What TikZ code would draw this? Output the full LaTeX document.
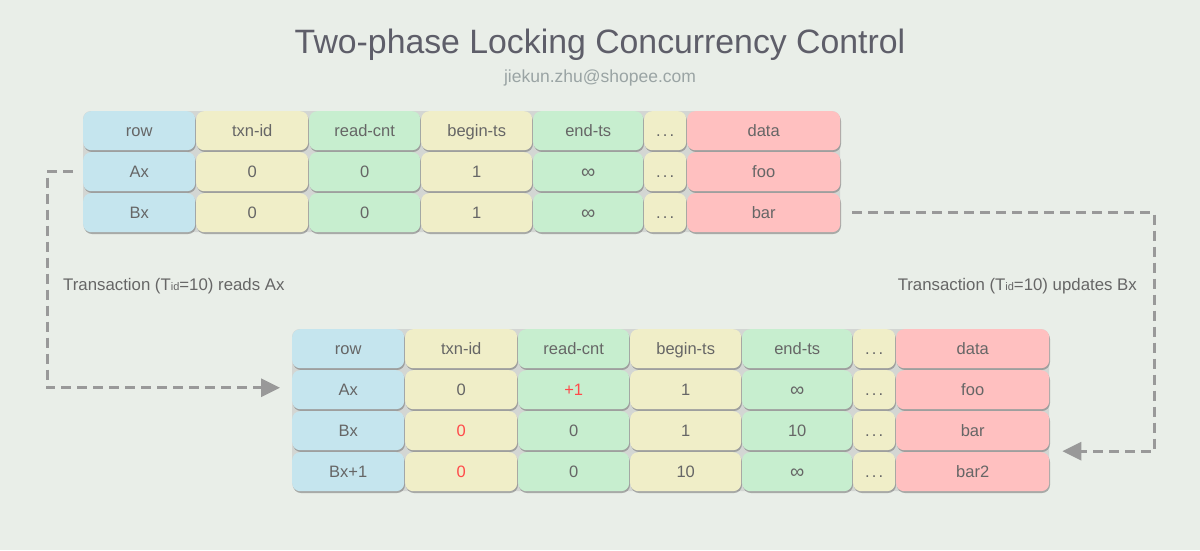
\documentclass[tikz,border=0pt]{standalone}
\usepackage{fontspec}
\setmainfont{Liberation Sans}
\usetikzlibrary{arrows.meta,shadows,calc}
\definecolor{bg}{HTML}{E9EEE8}
\definecolor{cblue}{HTML}{C5E5EE}
\definecolor{cyel}{HTML}{F0EEC8}
\definecolor{cgreen}{HTML}{C7EECF}
\definecolor{cpink}{HTML}{FFC0C0}
\definecolor{gapgray}{HTML}{D3D6D3}
\definecolor{txt}{HTML}{666666}
\definecolor{ttl}{HTML}{5E5E69}
\definecolor{sub}{HTML}{9AA4A4}
\definecolor{hlred}{HTML}{FF4A4A}
\definecolor{flowc}{HTML}{999999}
\newcommand\hl[1]{\textcolor{hlred}{#1}}
\newcommand\tid{T\raisebox{-0.5pt}{\fontsize{11}{11}\selectfont id}}
\newcommand\infsym{\raisebox{-1pt}{\fontsize{20}{18}\selectfont ∞}}
\newcommand\celldots{.\hspace{2.2pt}.\hspace{2.2pt}.}
\newcommand\mkrow[9]{%
  \node[cell, fill=cblue,  minimum width=112pt] (#1-1) at (#2,#3) {#4};
  \node[cell, fill=cyel,   minimum width=112pt] (#1-2) at ({#2+113},#3) {#5};
  \node[cell, fill=cgreen, minimum width=111pt] (#1-3) at ({#2+226},#3) {#6};
  \node[cell, fill=cyel,   minimum width=111pt] (#1-4) at ({#2+338},#3) {#7};
  \node[cell, fill=cgreen, minimum width=110pt] (#1-5) at ({#2+450},#3) {#8};
  \node[cell, fill=cyel,   minimum width=42pt]  (#1-6) at ({#2+561},#3) {\celldots};
  \node[cell, fill=cpink,  minimum width=153pt] (#1-7) at ({#2+604},#3) {#9};
}
\begin{document}
\begin{tikzpicture}[x=1pt,y=-1pt,
  cell/.style={anchor=north west, minimum height=39pt, inner sep=0pt,
    text height=13.5pt, text depth=1.5pt,
    rounded corners=8pt, text=txt, font=\fontsize{16.5}{19}\selectfont,
    drop shadow={shadow xshift=0.8pt, shadow yshift=-1.8pt, fill=black!55, opacity=0.55}},
  tablebg/.style={fill=gapgray, rounded corners=8pt},
  flow/.style={draw=flowc, line width=3pt, dash pattern=on 10pt off 6pt,
    -{Triangle[length=19pt,width=18pt,fill=flowc]}},
  lbl/.style={text=txt, font=\fontsize{16.8}{19}\selectfont, inner sep=0pt}]
\useasboundingbox[fill=bg] (0,0) rectangle (1200,550);

\node[text=ttl, font=\fontsize{33.8}{40}\selectfont] (title) at (600,45) {Two-phase Locking Concurrency Control};
\node[text=sub, font=\fontsize{17.5}{20}\selectfont] (subtitle) at (600,78) {jiekun.zhu@shopee.com};

% top table
\fill[tablebg] (83,111) rectangle (840,232);
\mkrow{th}{83}{111}{row}{txn-id}{read-cnt}{begin-ts}{end-ts}{data}
\mkrow{ta}{83}{152}{Ax}{0}{0}{1}{\infsym}{foo}
\mkrow{tb}{83}{193}{Bx}{0}{0}{1}{\infsym}{bar}

% bottom table
\fill[tablebg] (292,329) rectangle (1049,491);
\mkrow{bh}{292}{329}{row}{txn-id}{read-cnt}{begin-ts}{end-ts}{data}
\mkrow{ba}{292}{370}{Ax}{0}{\hl{+1}}{1}{\infsym}{foo}
\mkrow{bb}{292}{411}{Bx}{\hl{0}}{0}{1}{10}{bar}
\mkrow{bc}{292}{452}{Bx+1}{\hl{0}}{0}{10}{\infsym}{bar2}

% connectors
\coordinate (lin) at ($(ba-1.west)+(0,-2)$);
\draw[flow, shorten <=10pt, shorten >=12pt] (ta-1.west) -- ++(-36,0) |- (lin);
\coordinate (rin) at ($(bb-7.south east)!0.5!(bc-7.north east)$);
\draw[flow, shorten <=12pt, shorten >=13pt] (tb-7.east) -- ++(314,0) |- (rin);

\node[lbl, anchor=west] (lread) at (63,286) {Transaction (\tid=10) reads Ax};
\node[lbl, anchor=east] (lupd) at (1137,286) {Transaction (\tid=10) updates Bx};
\end{tikzpicture}
\end{document}
